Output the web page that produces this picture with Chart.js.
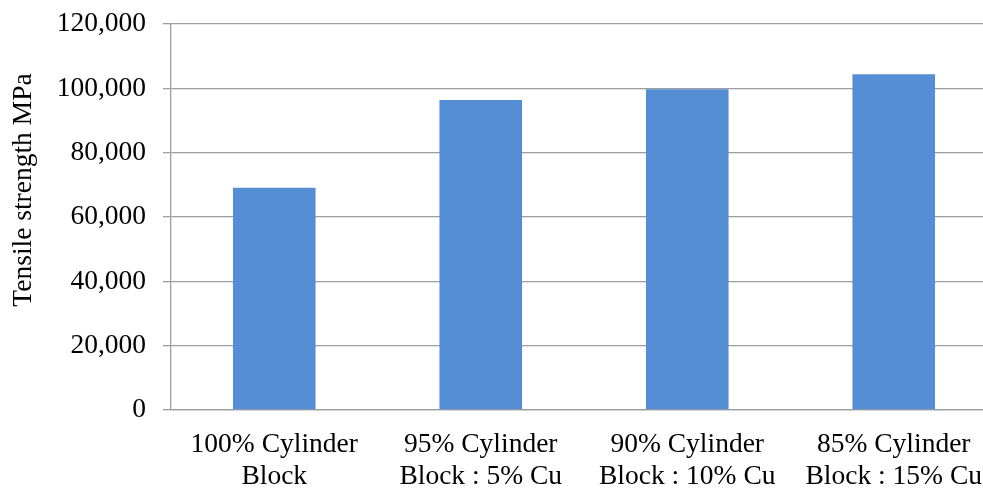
<!DOCTYPE html>
<html>
<head>
<meta charset="utf-8">
<script src="https://cdn.jsdelivr.net/npm/chart.js@4/dist/chart.umd.min.js"></script>
<style>
  html, body { margin: 0; padding: 0; background: #fff; overflow: hidden; }
  body { width: 983px; height: 488px; }
  #wrap { position: relative; width: 997px; height: 488px; }
</style>
</head>
<body>
<div id="wrap"><canvas id="c"></canvas></div>
<script>
// Tensile strength of cylinder block alloys with added copper
const categories = [
  ['100% Cylinder', 'Block'],
  ['95% Cylinder', 'Block : 5% Cu'],
  ['90% Cylinder', 'Block : 10% Cu'],
  ['85% Cylinder', 'Block : 15% Cu']
];
const tensileStrength = [69100, 96400, 99700, 104400];
const yAxisTitle = 'Tensile strength MPa';

const serif = "'Liberation Serif', 'Times New Roman', serif";
const gridGray = '#9d9d9d';

// Rotated axis title, placed a little above the plot's vertical middle
const axisTitlePlugin = {
  id: 'axisTitle',
  afterDraw(chart) {
    const ctx = chart.ctx;
    ctx.save();
    ctx.translate(24, 190);
    ctx.rotate(-Math.PI / 2);
    ctx.font = `27.5px ${serif}`;
    ctx.fillStyle = '#000';
    ctx.textAlign = 'center';
    ctx.textBaseline = 'middle';
    ctx.fillText(yAxisTitle, 0, 0);
    ctx.restore();
  }
};

new Chart(document.getElementById('c'), {
  type: 'bar',
  data: {
    labels: categories,
    datasets: [{
      data: tensileStrength,
      backgroundColor: '#558ed5',
      borderWidth: 0,
      categoryPercentage: 1.0,
      barPercentage: 0.4
    }]
  },
  plugins: [axisTitlePlugin],
  options: {
    responsive: true,
    maintainAspectRatio: false,
    animation: false,
    layout: { padding: { left: 0, right: 0, top: 24, bottom: 0 } },
    plugins: { legend: { display: false }, tooltip: { enabled: false } },
    scales: {
      x: {
        grid: { display: false, drawTicks: false },
        border: { display: true, color: gridGray, width: 1.3 },
        ticks: {
          color: '#000',
          font: { family: serif, size: 27.5, lineHeight: 1.15 },
          padding: 19,
          maxRotation: 0,
          autoSkip: false
        },
        afterFit: (scale) => {
          scale.height = 78;
          scale.paddingLeft = 0;
          scale.paddingRight = 0;
        }
      },
      y: {
        min: 0,
        max: 120000,
        ticks: {
          stepSize: 20000,
          color: '#000',
          font: { family: serif, size: 27.5 },
          padding: 17
        },
        grid: { color: gridGray, lineWidth: 1.3, tickLength: 8, drawTicks: true },
        border: { display: true, color: gridGray, width: 1.3 },
        title: { display: false },
        afterFit: (scale) => {
          scale.width = 171;
          scale.paddingTop = 0;
          scale.paddingBottom = 0;
        }
      }
    }
  }
});
</script>
</body>
</html>
